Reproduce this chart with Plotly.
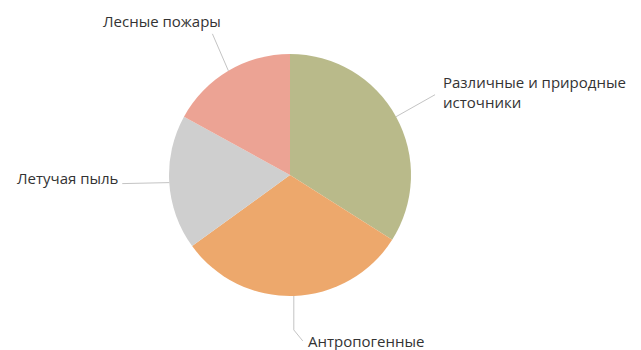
import math
import plotly.graph_objects as go

labels = ["Различные и природные источники", "Антропогенные", "Летучая пыль", "Лесные пожары"]
display_labels = ["Различные и природные<br>источники", "Антропогенные", "Летучая пыль", "Лесные пожары"]
values = [34, 31, 18, 17]
colors = ["#b9ba8a", "#eda86c", "#cfcfcf", "#eca394"]

W, H = 641, 350
CX, CY, R = 290, 175, 121

fig = go.Figure()
fig.add_trace(go.Pie(
    labels=labels, values=values, sort=False, direction="clockwise", rotation=0,
    marker=dict(colors=colors, line=dict(width=0)),
    textinfo="none", hoverinfo="label+percent", showlegend=False,
    domain=dict(x=[(CX - R) / W, (CX + R) / W], y=[(H - CY - R) / H, (H - CY + R) / H]),
))

def px(x):
    return x / W

def py(y):
    return 1 - y / H

# label layout: (text anchor x, text y, xanchor, elbow offsets relative to edge point)
label_layout = [
    dict(tx=441, ty=92, xanchor="left", path=[(39, -22)]),
    dict(tx=306, ty=341, xanchor="left", path=[(0, 34), (9, 45)]),
    dict(tx=121, ty=178, xanchor="right", path=[(-47, 1)]),
    dict(tx=101, ty=21, xanchor="left", path=[(-16, -37)]),
]

total = sum(values)
cum = 0
for lab, v, lay in zip(display_labels, values, label_layout):
    mid = (cum + v / 2) / total * 2 * math.pi
    cum += v
    ex = CX + R * math.sin(mid)
    ey = CY - R * math.cos(mid)
    pts = [(ex, ey)] + [(ex + dx, ey + dy) for dx, dy in lay["path"]]
    d = "M " + " L ".join(f"{px(x):.5f},{py(y):.5f}" for x, y in pts)
    fig.add_shape(type="path", path=d, xref="paper", yref="paper",
                  line=dict(color="#c4c4c4", width=1))
    fig.add_annotation(x=px(lay["tx"]), y=py(lay["ty"]), xref="paper", yref="paper",
                       text=lab, showarrow=False, xanchor=lay["xanchor"], yanchor="middle",
                       align="left", font=dict(family="Open Sans", size=15, color="#333333"))

fig.update_layout(width=W, height=H, margin=dict(l=0, r=0, t=0, b=0),
                  paper_bgcolor="white", plot_bgcolor="white")
fig.write_html("out.html")
